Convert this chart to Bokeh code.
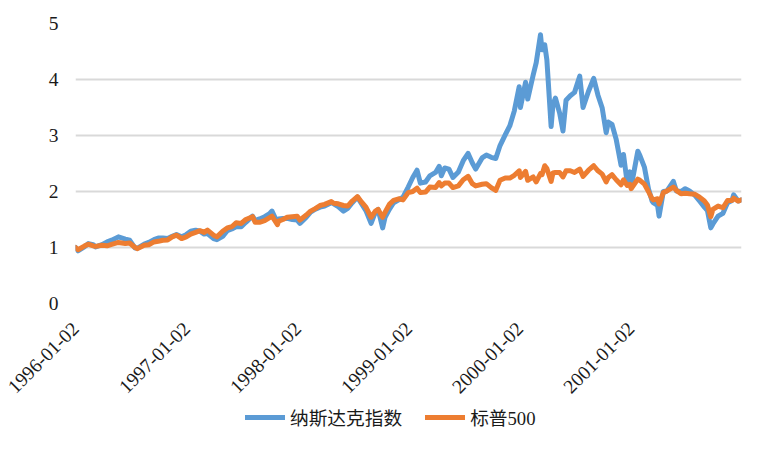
from datetime import datetime
from bokeh.plotting import figure
from bokeh.layouts import column
from bokeh.models import (FixedTicker, DatetimeTickFormatter, Legend, LegendItem,
                          Range1d, ColumnDataSource)
from bokeh.embed import file_html
from bokeh.resources import INLINE

dates = [
 "1996-01-02","1996-01-10","1996-01-31","1996-02-13","1996-02-29","1996-03-08","1996-03-29",
 "1996-04-15","1996-04-30","1996-05-22","1996-06-14","1996-06-28","1996-07-16","1996-07-24",
 "1996-08-15","1996-08-30","1996-09-16","1996-09-30","1996-10-15","1996-10-31","1996-11-15",
 "1996-11-29","1996-12-16","1996-12-31",
 "1997-01-15","1997-01-31","1997-02-14","1997-02-28","1997-03-11","1997-03-31","1997-04-11",
 "1997-04-30","1997-05-15","1997-05-30","1997-06-13","1997-06-30","1997-07-15","1997-08-06",
 "1997-08-15","1997-08-29","1997-09-15","1997-09-30","1997-10-09","1997-10-27","1997-10-31",
 "1997-11-14","1997-11-28","1997-12-15","1997-12-31",
 "1998-01-09","1998-01-30","1998-02-13","1998-02-27","1998-03-16","1998-03-31","1998-04-22",
 "1998-04-30","1998-05-15","1998-06-01","1998-06-15","1998-06-30","1998-07-17","1998-07-31",
 "1998-08-14","1998-08-31","1998-09-14","1998-09-23","1998-10-08","1998-10-16","1998-10-30",
 "1998-11-13","1998-11-30","1998-12-14","1998-12-31",
 "1999-01-15","1999-01-29","1999-02-09","1999-02-26","1999-03-12","1999-03-31","1999-04-12",
 "1999-04-19","1999-04-30","1999-05-14","1999-05-27","1999-06-14","1999-06-30","1999-07-16",
 "1999-07-30","1999-08-10","1999-08-31","1999-09-14","1999-09-30","1999-10-15","1999-10-29",
 "1999-11-15","1999-11-30","1999-12-15","1999-12-31",
 "2000-01-04","2000-01-21","2000-01-28","2000-02-15","2000-02-25","2000-03-10","2000-03-15",
 "2000-03-24","2000-03-31","2000-04-14","2000-04-20","2000-04-28","2000-05-12","2000-05-23",
 "2000-06-02","2000-06-16","2000-06-30","2000-07-17","2000-07-28","2000-08-15","2000-09-01",
 "2000-09-15","2000-09-29","2000-10-12","2000-10-19","2000-10-31","2000-11-14","2000-11-30",
 "2000-12-08","2000-12-20","2000-12-29",
 "2001-01-02","2001-01-24","2001-01-31","2001-02-15","2001-02-28","2001-03-12","2001-03-16",
 "2001-03-30","2001-04-04","2001-04-18","2001-04-30","2001-05-21","2001-05-31","2001-06-15",
 "2001-06-29","2001-07-13","2001-07-31","2001-08-15","2001-08-31","2001-09-10","2001-09-21",
 "2001-09-28","2001-10-15","2001-10-31","2001-11-15","2001-11-30","2001-12-05","2001-12-20",
 "2001-12-31",
]

nasdaq = [
 1.00,0.94,1.01,1.07,1.05,1.01,1.05,
 1.10,1.13,1.19,1.15,1.13,0.99,0.99,
 1.06,1.09,1.14,1.17,1.17,1.16,1.20,
 1.23,1.19,1.23,
 1.29,1.31,1.29,1.24,1.25,1.16,1.14,
 1.20,1.30,1.33,1.37,1.37,1.45,1.56,
 1.48,1.51,1.55,1.60,1.65,1.44,1.51,
 1.52,1.52,1.50,1.49,
 1.43,1.54,1.63,1.68,1.72,1.74,1.80,
 1.78,1.73,1.65,1.70,1.80,1.90,1.78,
 1.66,1.43,1.63,1.68,1.35,1.54,1.68,
 1.80,1.85,1.90,2.08,
 2.25,2.38,2.15,2.17,2.28,2.34,2.45,
 2.28,2.42,2.40,2.25,2.35,2.55,2.68,
 2.51,2.40,2.60,2.65,2.61,2.59,2.82,
 3.01,3.17,3.44,3.87,
 3.50,3.95,3.65,4.08,4.30,4.80,4.53,
 4.62,4.35,3.16,3.55,3.67,3.40,3.08,
 3.63,3.71,3.77,4.06,3.50,3.79,4.02,
 3.72,3.49,3.05,3.24,3.20,2.93,2.47,
 2.66,2.16,2.35,
 2.08,2.72,2.64,2.43,2.05,1.83,1.80,
 1.75,1.56,2.00,2.01,2.18,2.01,2.00,
 2.05,2.01,1.93,1.83,1.72,1.66,1.35,
 1.42,1.56,1.61,1.80,1.84,1.94,1.83,
 1.85,
]

sp500 = [
 1.00,0.96,1.025,1.06,1.03,1.02,1.04,
 1.03,1.054,1.09,1.07,1.08,1.00,0.98,
 1.04,1.05,1.10,1.11,1.13,1.136,1.19,
 1.22,1.16,1.19,
 1.24,1.27,1.30,1.27,1.31,1.22,1.19,
 1.29,1.35,1.37,1.44,1.43,1.50,1.55,
 1.45,1.45,1.48,1.53,1.56,1.41,1.47,
 1.50,1.54,1.55,1.56,
 1.49,1.58,1.65,1.69,1.75,1.77,1.82,
 1.79,1.78,1.75,1.74,1.83,1.91,1.81,
 1.72,1.54,1.65,1.68,1.54,1.63,1.77,
 1.84,1.87,1.85,1.98,
 2.00,2.06,1.98,1.99,2.08,2.07,2.16,
 2.10,2.15,2.15,2.07,2.10,2.21,2.27,
 2.14,2.10,2.13,2.14,2.07,2.02,2.20,
 2.24,2.24,2.29,2.37,
 2.25,2.36,2.20,2.26,2.17,2.32,2.30,
 2.46,2.41,2.18,2.33,2.34,2.34,2.26,
 2.37,2.37,2.34,2.40,2.27,2.38,2.46,
 2.37,2.31,2.17,2.25,2.30,2.21,2.12,
 2.21,2.11,2.13,
 2.05,2.22,2.20,2.13,2.00,1.87,1.85,
 1.87,1.78,1.98,2.01,2.08,2.02,1.96,
 1.97,1.96,1.95,1.90,1.83,1.76,1.55,
 1.68,1.74,1.71,1.84,1.84,1.88,1.83,
 1.85,
]

series_names = ["纳斯达克指数", "标普500"]
series_colors = ["#5B9BD5", "#ED7D31"]
x_tick_labels = ["1996-01-02", "1997-01-02", "1998-01-02", "1999-01-02", "2000-01-02", "2001-01-02"]
y_ticks = [0, 1, 2, 3, 4, 5]

xs = [datetime.strptime(d, "%Y-%m-%d") for d in dates]
src = ColumnDataSource(dict(x=xs, n=nasdaq, s=sp500))

p = figure(x_axis_type="datetime", output_backend="svg", toolbar_location=None,
           frame_width=666, frame_height=280,
           min_border_left=75, min_border_right=19, min_border_top=23, min_border_bottom=100,
           x_range=Range1d(datetime(1996, 1, 2), datetime(2001, 12, 31)),
           y_range=Range1d(0, 5))
p.outline_line_color = None
p.background_fill_color = "white"

p.line("x", "n", source=src, line_width=5, line_color=series_colors[0],
       line_join="round", line_cap="round")
p.line("x", "s", source=src, line_width=5, line_color=series_colors[1],
       line_join="round", line_cap="round")

tick_ms = [datetime.strptime(t, "%Y-%m-%d").timestamp() * 1000 for t in x_tick_labels]
p.xaxis.ticker = FixedTicker(ticks=tick_ms)
fmt = "%Y-%m-%d"
p.xaxis.formatter = DatetimeTickFormatter(years=fmt, months=fmt, days=fmt, hours=fmt,
                                          hourmin=fmt, minutes=fmt, minsec=fmt,
                                          seconds=fmt, milliseconds=fmt, microseconds=fmt)
p.xaxis.major_label_orientation = 0.785398
p.xaxis.major_label_standoff = 22
p.yaxis.ticker = FixedTicker(ticks=y_ticks)
p.yaxis.major_label_standoff = 17

for ax in (p.xaxis[0], p.yaxis[0]):
    ax.axis_line_color = None
    ax.major_tick_line_color = None
    ax.minor_tick_line_color = None
    ax.major_tick_out = 0
    ax.major_tick_in = 0
    ax.minor_tick_out = 0
    ax.minor_tick_in = 0
    ax.major_label_text_font = "Liberation Serif"
    ax.major_label_text_font_size = "19.5px"
    ax.major_label_text_color = "#1a1a1a"

p.xgrid.grid_line_color = None
p.ygrid.ticker = FixedTicker(ticks=y_ticks)
p.ygrid.grid_line_color = "#d9d9d9"
p.ygrid.grid_line_width = 1.8

# legend strip below the chart (its own dummy renderers lie outside the visible range)
pl = figure(output_backend="svg", toolbar_location=None, width=760, height=31,
            min_border=0, x_axis_location=None, y_axis_location=None,
            x_range=Range1d(0, 1), y_range=Range1d(0, 1))
pl.outline_line_color = None
pl.xgrid.visible = False
pl.ygrid.visible = False
l1 = pl.line(x=[-2, -1], y=[-2, -2], line_width=5, line_color=series_colors[0], line_cap="round")
l2 = pl.line(x=[-2, -1], y=[-2, -2], line_width=5, line_color=series_colors[1], line_cap="round")
legend = Legend(items=[LegendItem(label=series_names[0], renderers=[l1]),
                       LegendItem(label=series_names[1], renderers=[l2])],
                orientation="horizontal", location=(170, 4),
                glyph_width=40, glyph_height=20, label_height=20,
                label_standoff=5, spacing=23, padding=0, margin=0,
                border_line_color=None, background_fill_alpha=0,
                label_text_font="'Liberation Serif', 'Noto Sans CJK SC'",
                label_text_font_size="18.7px", label_text_color="#1a1a1a")
pl.add_layout(legend, "center")

layout = column(p, pl, spacing=0)
open("out.html", "w").write(file_html(layout, INLINE))
